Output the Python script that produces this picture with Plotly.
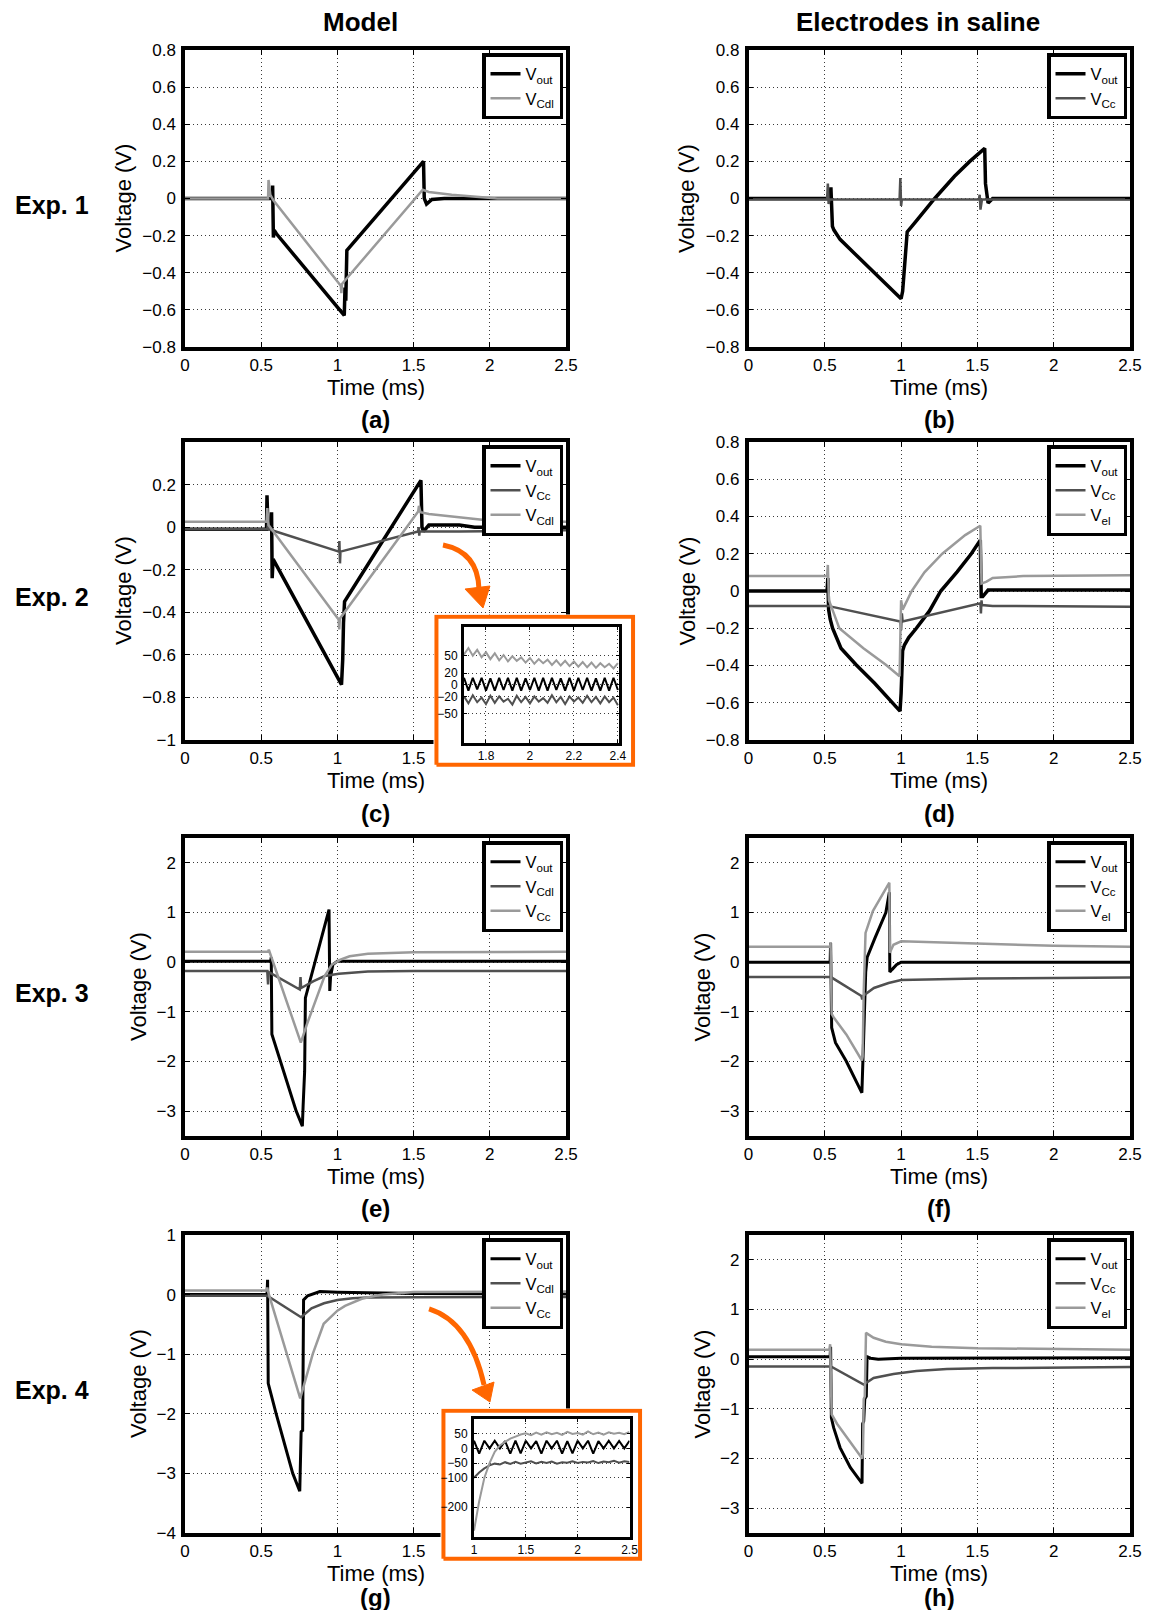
import plotly.graph_objects as go

# ---------------- data: time in ms, voltage in V ----------------
x_ticks = [0, 0.5, 1, 1.5, 2, 2.5]
y_ticks_ab = [-0.8, -0.6, -0.4, -0.2, 0, 0.2, 0.4, 0.6, 0.8]
y_ticks_c = [-1, -0.8, -0.6, -0.4, -0.2, 0, 0.2]
y_ticks_ef = [-3, -2, -1, 0, 1, 2]
y_ticks_g = [-4, -3, -2, -1, 0, 1]

# (a) Model, Exp. 1
a_out_t = [0, 0.57, 0.575, 0.58, 0.585, 0.60, 1.045, 1.05, 1.055, 1.062, 1.565, 1.57, 1.585, 1.62, 1.7, 2.5]
a_out_v = [0, 0, 0.07, -0.21, -0.17, -0.19, -0.63, -0.48, -0.55, -0.28, 0.2, 0.0, -0.03, -0.005, 0, 0]
a_cdl_t = [0, 0.545, 0.548, 0.56, 0.58, 1.022, 1.026, 1.03, 1.56, 1.6, 1.75, 1.9, 2.05, 2.5]
a_cdl_v = [0, 0, 0.1, 0.02, -0.01, -0.47, -0.51, -0.46, 0.047, 0.035, 0.02, 0.01, 0.0, 0]

# (b) Electrodes, Exp. 1
b_out_t = [0, 0.535, 0.54, 0.55, 0.56, 0.6, 0.7, 0.8, 0.9, 1.0, 1.01, 1.04, 1.1, 1.15, 1.22, 1.35, 1.45, 1.548, 1.553, 1.57, 1.6, 2.5]
b_out_v = [0, 0, 0.06, -0.15, -0.17, -0.22, -0.30, -0.38, -0.46, -0.54, -0.5, -0.18, -0.12, -0.07, 0, 0.12, 0.2, 0.27, 0.08, -0.025, 0, 0]
b_cc_t = [0, 0.515, 0.52, 0.525, 0.53, 0.99, 0.995, 1.0, 1.005, 1.51, 1.515, 1.52, 1.53, 2.5]
b_cc_v = [-0.005, -0.005, 0.08, -0.03, -0.005, -0.005, 0.11, -0.04, -0.005, -0.005, 0.02, -0.06, -0.005, -0.005]

# (c) Model, Exp. 2
c_out_t = [0, 0.535, 0.538, 0.545, 0.565, 0.568, 0.572, 0.578, 1.027, 1.035, 1.04, 1.047, 1.548, 1.555, 1.565, 1.6, 1.8, 1.9, 2.5]
c_out_v = [-0.01, -0.01, 0.15, -0.01, 0.0, 0.07, -0.24, -0.15, -0.74, -0.62, -0.45, -0.35, 0.22, 0.0, -0.02, 0.01, 0.01, 0.0, 0.0]
c_cc_t = [0, 0.54, 0.545, 0.55, 0.56, 1.01, 1.013, 1.017, 1.02, 1.53, 1.533, 1.537, 1.54, 1.8, 2.5]
c_cc_v = [-0.01, -0.01, 0.02, -0.01, -0.012, -0.115, -0.065, -0.17, -0.115, -0.02, 0.0, -0.04, -0.02, -0.02, -0.015]
c_cdl_t = [0, 0.535, 0.54, 0.548, 1.008, 1.012, 1.016, 1.53, 1.535, 1.545, 1.6, 1.75, 1.95, 2.2, 2.5]
c_cdl_v = [0.025, 0.025, 0.09, 0.01, -0.434, -0.48, -0.43, 0.073, 0.1, 0.07, 0.062, 0.05, 0.035, 0.03, 0.025]

# (c) inset, mV
ci_t = [1.70, 1.72, 1.74, 1.76, 1.78, 1.80, 1.82, 1.84, 1.86, 1.88, 1.90, 1.92, 1.94, 1.96, 1.98, 2.00, 2.02, 2.04,
        2.06, 2.08, 2.10, 2.12, 2.14, 2.16, 2.18, 2.20, 2.22, 2.24, 2.26, 2.28, 2.30, 2.32, 2.34, 2.36, 2.38, 2.40]
ci_cdl = [52, 63, 50, 60, 47, 56, 44, 54, 42, 51, 40, 49, 41, 47, 38, 46, 36, 44, 37, 43, 34, 42, 33, 41, 32, 40, 31, 39,
          30, 38, 29, 37, 30, 36, 28, 37]
ci_out = [12, -10, 12, -8, 12, -10, 11, -10, 12, -9, 12, -10, 12, -10, 11, -9, 12, -10, 12, -10, 12, -9, 11, -10, 12, -10,
          12, -9, 12, -10, 11, -10, 12, -10, 12, -9]
ci_cc = [-20, -32, -18, -30, -22, -33, -19, -31, -20, -29, -24, -34, -19, -30, -21, -32, -20, -29, -23, -31, -18, -30, -21,
         -33, -20, -29, -22, -31, -19, -30, -21, -32, -20, -30, -22, -35]
ci_x_ticks = [1.8, 2.0, 2.2, 2.4]
ci_x_labels = ["1.8", "2", "2.2", "2.4"]
ci_y_ticks = [-50, -20, 0, 20, 50]

# (d) Electrodes, Exp. 2
d_out_t = [0, 0.515, 0.52, 0.525, 0.535, 0.551, 0.606, 0.705, 0.825, 0.923, 0.993, 1.0, 1.01, 1.022, 1.05, 1.1, 1.186,
           1.26, 1.367, 1.46, 1.519, 1.525, 1.535, 1.57, 2.5]
d_out_v = [0, 0, 0.07, -0.1, -0.15, -0.2, -0.307, -0.396, -0.494, -0.58, -0.645, -0.55, -0.32, -0.29, -0.25, -0.2, -0.107,
           0, 0.103, 0.2, 0.273, -0.03, -0.03, 0.005, 0.005]
d_cc_t = [0, 0.52, 0.995, 1.0, 1.005, 1.01, 1.52, 1.523, 1.527, 1.53, 1.6, 2.5]
d_cc_v = [-0.08, -0.08, -0.164, -0.21, -0.12, -0.164, -0.066, -0.12, -0.05, -0.075, -0.08, -0.085]
d_el_t = [0, 0.515, 0.52, 0.527, 0.55, 0.595, 0.753, 0.9, 0.99, 0.995, 1.0, 1.01, 1.07, 1.153, 1.27, 1.42, 1.519, 1.527,
          1.56, 1.6, 1.8, 2.5]
d_el_v = [0.08, 0.08, 0.14, -0.05, -0.1, -0.2, -0.307, -0.396, -0.458, -0.1, -0.05, -0.1, 0.0, 0.1, 0.2, 0.3, 0.35, 0.04,
          0.05, 0.07, 0.08, 0.085]

# (e) Model, Exp. 3
e_out_t = [0, 0.562, 0.566, 0.57, 0.73, 0.77, 0.775, 0.78, 0.785, 0.79, 0.945, 0.95, 0.955, 0.97, 1.0, 2.5]
e_out_v = [0.02, 0.02, 0.1, -1.45, -3.0, -3.3, -2.9, -2.23, -2.2, -0.72, 1.06, -0.58, -0.3, -0.05, 0.02, 0.02]
e_cdl_t = [0, 0.54, 0.545, 0.55, 0.753, 0.758, 0.762, 0.844, 0.916, 1.01, 1.2, 1.5, 2.5]
e_cdl_v = [-0.18, -0.18, -0.45, -0.2, -0.55, -0.3, -0.52, -0.38, -0.28, -0.235, -0.19, -0.18, -0.18]
e_cc_t = [0, 0.545, 0.55, 0.76, 0.8, 0.87, 0.916, 0.964, 1.02, 1.08, 1.2, 1.5, 2.5]
e_cc_v = [0.21, 0.21, 0.25, -1.62, -1.25, -0.66, -0.28, -0.05, 0.05, 0.12, 0.17, 0.2, 0.21]

# (f) Electrodes, Exp. 3
f_out_t = [0, 0.535, 0.538, 0.545, 0.57, 0.64, 0.743, 0.748, 0.755, 0.768, 0.778, 0.829, 0.9, 0.923, 0.926, 0.94, 0.97,
           1.0, 2.5]
f_out_v = [0.0, 0.0, 0.39, -1.32, -1.62, -1.99, -2.63, -2.0, -1.49, -0.2, 0.1, 0.49, 1.0, 1.41, -0.2, -0.15, -0.05, 0.0,
           0.0]
f_cc_t = [0, 0.54, 0.74, 0.745, 0.75, 0.822, 0.918, 1.0, 1.5, 2.0, 2.5]
f_cc_v = [-0.3, -0.3, -0.68, -0.75, -0.68, -0.52, -0.42, -0.36, -0.33, -0.32, -0.31]
f_el_t = [0, 0.535, 0.538, 0.545, 0.56, 0.642, 0.743, 0.748, 0.755, 0.767, 0.815, 0.87, 0.923, 0.926, 0.95, 1.0, 1.2,
          1.5, 2.0, 2.5]
f_el_v = [0.31, 0.31, 0.4, -1.04, -1.12, -1.46, -1.98, -1.9, -0.6, 0.59, 1.03, 1.33, 1.6, 0.19, 0.35, 0.42, 0.4, 0.37,
          0.33, 0.31]

# (g) Model, Exp. 4
g_out_t = [0, 0.538, 0.542, 0.546, 0.597, 0.707, 0.753, 0.757, 0.762, 0.772, 0.778, 0.805, 0.885, 1.0, 1.5, 2.5]
g_out_v = [0.0, 0.0, 0.25, -1.49, -1.99, -3.0, -3.3, -2.5, -2.3, -2.28, -0.09, -0.02, 0.05, 0.04, 0.02, 0.01]
g_cdl_t = [0, 0.54, 0.762, 0.83, 0.912, 1.0, 1.1, 1.2, 1.5, 2.5]
g_cdl_v = [-0.02, -0.02, -0.38, -0.23, -0.145, -0.09, -0.06, -0.05, -0.045, -0.04]
g_cc_t = [0, 0.535, 0.54, 0.545, 0.756, 0.838, 0.91, 1.0, 1.05, 1.1, 1.16, 1.25, 1.3, 1.5, 2.5]
g_cc_v = [0.07, 0.07, 0.12, 0.05, -1.74, -1.0, -0.49, -0.27, -0.19, -0.13, -0.07, -0.02, 0.0, 0.045, 0.05]

# (g) inset, mV
gi_t = [1.00, 1.05, 1.10, 1.15, 1.20, 1.25, 1.30, 1.35, 1.40, 1.45, 1.50, 1.55, 1.60, 1.65, 1.70, 1.75, 1.80, 1.85,
        1.90, 1.95, 2.00, 2.05, 2.10, 2.15, 2.20, 2.25, 2.30, 2.35, 2.40, 2.45, 2.50]
gi_cc = [-280, -180, -100, -50, -12, 10, 22, 33, 40, 47, 51, 45, 54, 47, 55, 48, 53, 46, 56, 49, 52, 47, 58, 48, 54, 47,
         55, 50, 53, 48, 56]
gi_cdl = [-100, -82, -68, -58, -52, -55, -47, -53, -46, -52, -48, -44, -51, -46, -50, -45, -52, -47, -49, -44, -50, -46,
          -48, -43, -50, -45, -47, -42, -49, -44, -46]
gi_out = [26, -18, 26, 0, 26, 0, 25, -18, 26, -17, 26, 0, 25, -18, 26, 0, 26, -18, 25, -17, 26, 0, 26, -18, 25, 0, 26, 0,
          25, 0, 26]
gi_x_ticks = [1, 1.5, 2, 2.5]
gi_y_ticks = [-200, -100, -50, 0, 50]

# (h) Electrodes, Exp. 4
h_out_t = [0, 0.535, 0.538, 0.543, 0.558, 0.6, 0.667, 0.744, 0.748, 0.755, 0.762, 0.772, 0.777, 0.8, 0.85, 1.0, 2.5]
h_out_v = [0.05, 0.05, 0.25, -1.18, -1.38, -1.78, -2.18, -2.5, -1.3, -1.25, -0.8, -0.75, 0.05, 0.02, 0.0, 0.02, 0.03]
h_cc_t = [0, 0.54, 0.755, 0.82, 0.95, 1.1, 1.3, 1.6, 2.5]
h_cc_v = [-0.147, -0.147, -0.51, -0.38, -0.3, -0.24, -0.2, -0.18, -0.16]
h_el_t = [0, 0.53, 0.535, 0.545, 0.58, 0.645, 0.745, 0.75, 0.755, 0.762, 0.77, 0.82, 0.9, 1.0, 1.2, 1.5, 2.0, 2.5]
h_el_v = [0.19, 0.19, 0.3, -1.11, -1.3, -1.58, -2.0, -1.9, -0.8, -0.75, 0.53, 0.43, 0.35, 0.3, 0.25, 0.22, 0.2, 0.19]

# ---------------- styling / layout ----------------
PAGE_W, PAGE_H = 1150, 1618
BODY = 8                       # default page margin around the plot div
W, H = PAGE_W - 2 * BODY, PAGE_H - 2 * BODY
FONT = "Liberation Sans, Arial, Helvetica, sans-serif"
BLACK, DARK, LIGHT, ORANGE = "#000000", "#505050", "#9a9a9a", "#FF6600"
GRID = "#3a3a3a"


def fx(px):
    return (px - BODY) / W


def fy(py):
    return 1 - (py - BODY) / H


COLS = [(185.0, 566.0), (748.5, 1130.0)]
ROWS = [(50.0, 347.0), (442.0, 740.0), (838.0, 1136.0), (1235.0, 1533.0)]
LETTER_Y = [419.0, 813.0, 1208.0, 1597.0]

VOUT, VCC, VCDL, VEL = "V<sub>out</sub>", "V<sub>Cc</sub>", "V<sub>Cdl</sub>", "V<sub>el</sub>"
panels = [
    dict(r=0, c=0, yr=[-0.8, 0.8], yt=y_ticks_ab, lab="(a)",
         s=[(VOUT, a_out_t, a_out_v, BLACK, 3.5), (VCDL, a_cdl_t, a_cdl_v, LIGHT, 2.5)]),
    dict(r=0, c=1, yr=[-0.8, 0.8], yt=y_ticks_ab, lab="(b)",
         s=[(VOUT, b_out_t, b_out_v, BLACK, 3.5), (VCC, b_cc_t, b_cc_v, DARK, 2.5)]),
    dict(r=1, c=0, yr=[-1, 0.4], yt=y_ticks_c, lab="(c)",
         s=[(VOUT, c_out_t, c_out_v, BLACK, 3.5), (VCC, c_cc_t, c_cc_v, DARK, 2.5),
            (VCDL, c_cdl_t, c_cdl_v, LIGHT, 2.5)]),
    dict(r=1, c=1, yr=[-0.8, 0.8], yt=y_ticks_ab, lab="(d)",
         s=[(VOUT, d_out_t, d_out_v, BLACK, 3.5), (VCC, d_cc_t, d_cc_v, DARK, 2.5), (VEL, d_el_t, d_el_v, LIGHT, 2.5)]),
    dict(r=2, c=0, yr=[-3.5, 2.5], yt=y_ticks_ef, lab="(e)",
         s=[(VOUT, e_out_t, e_out_v, BLACK, 3.0), (VCDL, e_cdl_t, e_cdl_v, DARK, 2.5),
            (VCC, e_cc_t, e_cc_v, LIGHT, 2.5)]),
    dict(r=2, c=1, yr=[-3.5, 2.5], yt=y_ticks_ef, lab="(f)",
         s=[(VOUT, f_out_t, f_out_v, BLACK, 3.0), (VCC, f_cc_t, f_cc_v, DARK, 2.5), (VEL, f_el_t, f_el_v, LIGHT, 2.5)]),
    dict(r=3, c=0, yr=[-4, 1], yt=y_ticks_g, lab="(g)",
         s=[(VOUT, g_out_t, g_out_v, BLACK, 3.0), (VCDL, g_cdl_t, g_cdl_v, DARK, 2.5),
            (VCC, g_cc_t, g_cc_v, LIGHT, 2.5)]),
    dict(r=3, c=1, yr=[-3.5, 2.5], yt=y_ticks_ef, lab="(h)",
         s=[(VOUT, h_out_t, h_out_v, BLACK, 3.0), (VCC, h_cc_t, h_cc_v, DARK, 2.5), (VEL, h_el_t, h_el_v, LIGHT, 2.5)]),
]

fig = go.Figure()
layout = dict(width=W, height=H, margin=dict(l=0, r=0, t=0, b=0, pad=0, autoexpand=False),
              paper_bgcolor="white", plot_bgcolor="white",
              font=dict(family=FONT, color="black"), showlegend=True)
annotations = []
shapes = []


def axis_style(tickfont, lw, tl):
    return dict(showline=True, linecolor="black", linewidth=lw, mirror="ticks", ticks="inside", ticklen=tl,
                tickwidth=1.2, tickcolor="black", showgrid=True, gridcolor=GRID, griddash="1px,3px", gridwidth=1,
                zeroline=False, automargin=False, tickfont=dict(family=FONT, size=tickfont, color="black"))


for i, p in enumerate(panels):
    sfx = "" if i == 0 else str(i + 1)
    x0, x1 = COLS[p["c"]]
    y0, y1 = ROWS[p["r"]]
    xa = axis_style(17, 3.5, 5)
    xa.update(domain=[fx(x0), fx(x1)], anchor="y" + sfx, range=[0, 2.5], tickvals=x_ticks)
    ya = axis_style(17, 3.5, 5)
    ya.update(domain=[fy(y1), fy(y0)], anchor="x" + sfx, range=p["yr"], tickvals=p["yt"], ticklabelstandoff=2)
    layout["xaxis" + sfx] = xa
    layout["yaxis" + sfx] = ya
    leg = "legend" + sfx
    layout[leg] = dict(x=fx(x1 - 3), y=fy(y0 + 3), xanchor="right", yanchor="top", bgcolor="white",
                       bordercolor="black", borderwidth=3.5, font=dict(family=FONT, size=16.5, color="black"),
                       tracegroupgap=0, itemwidth=30, traceorder="normal")
    for name, t, v, col, w in p["s"]:
        fig.add_trace(go.Scatter(x=t, y=v, mode="lines", name=name, line=dict(color=col, width=w),
                                 xaxis="x" + sfx, yaxis="y" + sfx, legend=leg, showlegend=True))
    xc = (x0 + x1) / 2
    annotations.append(dict(x=fx(xc), y=fy(y1 + 40), xref="paper", yref="paper", text="Time (ms)", showarrow=False,
                            xanchor="center", yanchor="middle", font=dict(family=FONT, size=22)))
    annotations.append(dict(x=fx(xc), y=fy(LETTER_Y[p["r"]]), xref="paper", yref="paper",
                            text="<b>%s</b>" % p["lab"], showarrow=False, xanchor="center", yanchor="middle",
                            font=dict(family=FONT, size=24)))
    wide = p["yr"][0] > -3
    vx = (x0 - 62) if wide else (x0 - 47)
    annotations.append(dict(x=fx(vx), y=fy((y0 + y1) / 2), xref="paper", yref="paper", text="Voltage (V)",
                            showarrow=False, textangle=-90, xanchor="center", yanchor="middle",
                            font=dict(family=FONT, size=22)))

# ---- insets: white/orange backing subplot + inset subplot ----
insets = [
    dict(bx=(433.5, 636.0), by=(614.5, 767.0), ax=(464.0, 619.0), ay=(626.5, 743.0), xr=[1.7, 2.405], yr=[-100, 100],
         xt=ci_x_ticks, xl=ci_x_labels, ytv=ci_y_ticks, t=ci_t,
         s=[(ci_out, BLACK, 2.0), (ci_cc, DARK, 2.0), (ci_cdl, LIGHT, 2.0)]),
    dict(bx=(440.5, 643.0), by=(1408.5, 1561.0), ax=(474.0, 629.5), ay=(1419.0, 1536.5), xr=[1, 2.5], yr=[-300, 100],
         xt=gi_x_ticks, xl=["1", "1.5", "2", "2.5"], ytv=gi_y_ticks, t=gi_t,
         s=[(gi_out, BLACK, 2.0), (gi_cdl, DARK, 2.0), (gi_cc, LIGHT, 2.0)]),
]
box_x = [0, 1, 1, 0, 0]
box_y = [0, 0, 1, 1, 0]
ax_id = 9
for ins in insets:
    bs, isx = str(ax_id), str(ax_id + 1)
    ax_id += 2
    hidden = dict(visible=False, showgrid=False, zeroline=False, automargin=False, range=[-0.015, 1.015])
    layout["xaxis" + bs] = dict(hidden, domain=[fx(ins["bx"][0]), fx(ins["bx"][1])], anchor="y" + bs)
    layout["yaxis" + bs] = dict(hidden, domain=[fy(ins["by"][1]), fy(ins["by"][0])], anchor="x" + bs)
    fig.add_trace(go.Scatter(x=box_x, y=box_y, mode="lines", fill="toself", fillcolor="white",
                             line=dict(color=ORANGE, width=4), xaxis="x" + bs, yaxis="y" + bs, showlegend=False,
                             hoverinfo="skip"))
    xa = axis_style(12, 3, 3)
    xa.update(domain=[fx(ins["ax"][0]), fx(ins["ax"][1])], anchor="y" + isx, range=ins["xr"], tickvals=ins["xt"],
              ticktext=ins["xl"])
    ya = axis_style(12, 3, 3)
    ya.update(domain=[fy(ins["ay"][1]), fy(ins["ay"][0])], anchor="x" + isx, range=ins["yr"], tickvals=ins["ytv"],
              ticklabelstandoff=1)
    layout["xaxis" + isx] = xa
    layout["yaxis" + isx] = ya
    for vals, col, w in ins["s"]:
        fig.add_trace(go.Scatter(x=ins["t"], y=vals, mode="lines", line=dict(color=col, width=w),
                                 xaxis="x" + isx, yaxis="y" + isx, showlegend=False))

# ---- curved orange arrows ----
arrows = [
    dict(s=(443, 545), c=(478, 552), e=(479, 589), head=[(465, 589), (490, 586), (483, 608)]),
    dict(s=(429, 1309), c=(470, 1322), e=(484, 1385), head=[(472, 1390), (494, 1382), (490, 1402)]),
]
for a in arrows:
    path = "M %.4f %.4f Q %.4f %.4f %.4f %.4f" % (fx(a["s"][0]), fy(a["s"][1]), fx(a["c"][0]), fy(a["c"][1]),
                                                   fx(a["e"][0]), fy(a["e"][1]))
    shapes.append(dict(type="path", path=path, xref="paper", yref="paper", line=dict(color=ORANGE, width=5),
                       layer="above"))
    h = a["head"]
    hp = "M %.4f %.4f L %.4f %.4f L %.4f %.4f Z" % (fx(h[0][0]), fy(h[0][1]), fx(h[1][0]), fy(h[1][1]),
                                                     fx(h[2][0]), fy(h[2][1]))
    shapes.append(dict(type="path", path=hp, xref="paper", yref="paper", fillcolor=ORANGE,
                       line=dict(color=ORANGE, width=1), layer="above"))

# ---- column / row headers ----
for txt, x in [("Model", 360), ("Electrodes in saline", 918)]:
    annotations.append(dict(x=fx(x), y=fy(22), xref="paper", yref="paper", text="<b>%s</b>" % txt, showarrow=False,
                            xanchor="center", yanchor="middle", font=dict(family=FONT, size=26)))
for k, ry in enumerate(ROWS):
    yc = (ry[0] + ry[1]) / 2 + 6
    annotations.append(dict(x=fx(52), y=fy(yc), xref="paper", yref="paper", text="<b>Exp. %d</b>" % (k + 1),
                            showarrow=False, xanchor="center", yanchor="middle", font=dict(family=FONT, size=25)))

layout["annotations"] = annotations
layout["shapes"] = shapes
fig.update_layout(**layout)
fig.write_html("out.html")
